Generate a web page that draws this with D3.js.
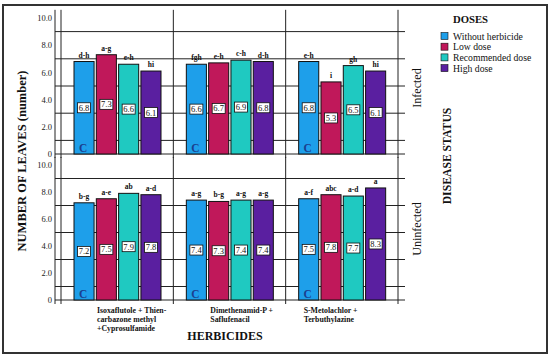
<!DOCTYPE html>
<html><head><meta charset="utf-8">
<script src="https://cdn.jsdelivr.net/npm/d3@7"></script>
<style>body{margin:0;background:#fff} svg{display:block} svg text{font-family:"Liberation Serif","Times New Roman",serif !important}</style>
</head><body><svg id="c" width="550" height="360"></svg>
<script>
const herbicideKeys = ["IsoT", "DimS", "SMetT"];
const herbicideLabels = [["Isoxaflutole + Thien-", "carbazone methyl", "+Cyprosulfamide"], ["Dimethenamid-P +", "Saflufenacil"], ["S-Metolachlor +", "Terbuthylazine"]];
const doses = ["Without herbicide", "Low dose", "Recommended dose", "High dose"];
const statuses = ["Infected", "Uninfected"];
const infectedValues = [[6.8, 7.3, 6.6, 6.1], [6.6, 6.7, 6.9, 6.8], [6.8, 5.3, 6.5, 6.1]];
const infectedLetters = [["d-h", "a-g", "e-h", "hi"], ["fgh", "e-h", "c-h", "d-h"], ["e-h", "i", "gh", "hi"]];
const uninfectedValues = [[7.2, 7.5, 7.9, 7.8], [7.4, 7.3, 7.4, 7.4], [7.5, 7.8, 7.7, 8.3]];
const uninfectedLetters = [["b-g", "a-e", "ab", "a-d"], ["a-g", "b-g", "a-g", "a-g"], ["a-f", "abc", "a-d", "a"]];
const yTicks = [0, 2, 4, 6, 8, 10];
const yTickLabels = ["0", "2.0", "4.0", "6.0", "8.0", "10.0"];
const gridValues = [1, 3, 5, 7, 9];
const doseColors = ["#1E9FEA", "#C0185A", "#1FC9C1", "#5A1FA0"];
const controlMark = "C";

const FONT = "Liberation Serif, Times New Roman, serif";
const svg = d3.select("#c");
svg.append("rect").attr("x", 3).attr("y", 5).attr("width", 544).attr("height", 348)
  .attr("fill", "#fff").attr("stroke", "#333").attr("stroke-width", 2);

const x0 = d3.scaleBand().domain(herbicideKeys).range([61, 398]).padding(0);
const x1 = d3.scaleBand().domain(doses).range([13, 100]).paddingInner(0.1);
const color = d3.scaleOrdinal().domain(doses).range(doseColors);

const panels = [
  {status: statuses[0], values: infectedValues, letters: infectedLetters, y0: 154, y10: 18, labelY: 88},
  {status: statuses[1], values: uninfectedValues, letters: uninfectedLetters, y0: 300, y10: 165, labelY: 229}
];

panels.forEach(p => {
  const k = (p.y0 - p.y10) / 10;
  const y = d3.scaleLinear().domain([0, 10.6]).range([p.y0, p.y0 - 10.6 * k]);
  const g = svg.append("g");
  const xl = 55, xr = 405;
  g.selectAll("line.grid").data(gridValues).join("line")
    .attr("x1", xl).attr("x2", xr).attr("y1", d => y(d)).attr("y2", d => y(d))
    .attr("stroke", "#222").attr("stroke-width", 1);
  const seps = herbicideKeys.map(h => x0(h)).concat([x0.range()[1]]);
  g.selectAll("line.sep").data(seps).join("line")
    .attr("x1", d => d).attr("x2", d => d).attr("y1", y(10.6)).attr("y2", p.y0 + 4)
    .attr("stroke", "#222").attr("stroke-width", 1);
  const yAxis = d3.axisLeft(y).tickValues(yTicks).tickFormat((d, i) => yTickLabels[i]).tickSize(0).tickPadding(3);
  const ag = g.append("g").attr("transform", `translate(${xl},0)`).call(yAxis);
  ag.attr("font-family", FONT);
  ag.select(".domain").attr("stroke", "#222").attr("d", `M0,${y(10.6)}V${p.y0 + 4}`);
  ag.selectAll("text").attr("font-family", FONT).attr("font-size", 8.5).attr("fill", "#222");
  g.append("line").attr("x1", xl).attr("x2", xr).attr("y1", p.y0).attr("y2", p.y0).attr("stroke", "#222");

  herbicideKeys.forEach((h, hi) => {
    const gg = g.append("g").attr("transform", `translate(${x0(h)},0)`);
    const data = doses.map((d, di) => ({dose: d, v: p.values[hi][di], l: p.letters[hi][di]}));
    gg.selectAll("rect.bar").data(data).join("rect")
      .attr("x", d => x1(d.dose)).attr("width", x1.bandwidth())
      .attr("y", d => y(d.v)).attr("height", d => y(0) - y(d.v))
      .attr("fill", d => color(d.dose)).attr("stroke", "#111").attr("stroke-width", 1);
    gg.selectAll("text.let").data(data).join("text")
      .attr("x", d => x1(d.dose) + x1.bandwidth() / 2).attr("y", d => y(d.v) - 4)
      .attr("text-anchor", "middle").attr("font-size", 7.5).attr("font-weight", "bold").attr("fill", "#111")
      .text(d => d.l);
    gg.selectAll("rect.box").data(data).join("rect")
      .attr("x", d => x1(d.dose) + x1.bandwidth() / 2 - 6.5).attr("y", d => y(d.v / 2) - 5)
      .attr("width", 13).attr("height", 10).attr("fill", "#fff").attr("stroke", "#111").attr("stroke-width", 0.8);
    gg.selectAll("text.val").data(data).join("text")
      .attr("x", d => x1(d.dose) + x1.bandwidth() / 2).attr("y", d => y(d.v / 2) + 3)
      .attr("text-anchor", "middle").attr("font-size", 8.5).attr("fill", "#111")
      .text(d => d.v.toFixed(1));
    gg.append("text").attr("x", x1(doses[0]) + x1.bandwidth() / 2 - 1).attr("y", y(0) - 2)
      .attr("text-anchor", "middle").attr("font-size", 11.5).attr("font-weight", "bold").attr("fill", "#1B3F8F")
      .text(controlMark);
  });
  svg.append("text").attr("transform", `translate(421,${p.labelY}) rotate(-90)`)
    .attr("text-anchor", "middle").attr("font-size", 12).attr("fill", "#111").text(p.status);
});

const labelOffsets = [36, 37, 18];
herbicideKeys.forEach((h, hi) => {
  const t = svg.append("text").attr("font-size", 7.8).attr("font-weight", "bold").attr("fill", "#111");
  herbicideLabels[hi].forEach((line, li) => {
    t.append("tspan").attr("x", x0(h) + labelOffsets[hi]).attr("y", 312.5 + li * 9).text(line);
  });
});
svg.append("text").attr("x", 225).attr("y", 340).attr("text-anchor", "middle")
  .attr("font-size", 12).attr("font-weight", "bold").attr("fill", "#111").text("HERBICIDES");
svg.append("text").attr("transform", "translate(26,161) rotate(-90)").attr("text-anchor", "middle")
  .attr("font-size", 12.5).attr("font-weight", "bold").attr("fill", "#111").text("NUMBER OF LEAVES (number)");
svg.append("text").attr("transform", "translate(451,156) rotate(-90)").attr("text-anchor", "middle")
  .attr("font-size", 11.7).attr("font-weight", "bold").attr("fill", "#111").text("DISEASE STATUS");

const lg = svg.append("g").attr("transform", "translate(441,0)");
lg.append("text").attr("x", 12).attr("y", 23).attr("font-size", 10.7).attr("font-weight", "bold").attr("fill", "#111").text("DOSES");
const li = lg.selectAll("g.it").data(doses).join("g").attr("transform", (d, i) => `translate(0,${36 + i * 10.7})`);
li.append("rect").attr("x", 0).attr("y", -3.5).attr("width", 7).attr("height", 7).attr("fill", d => color(d)).attr("stroke", "#111").attr("stroke-width", 0.6);
li.append("text").attr("x", 12).attr("y", 3.5).attr("font-size", 9.7).attr("fill", "#111").text(d => d);
</script></body></html>
